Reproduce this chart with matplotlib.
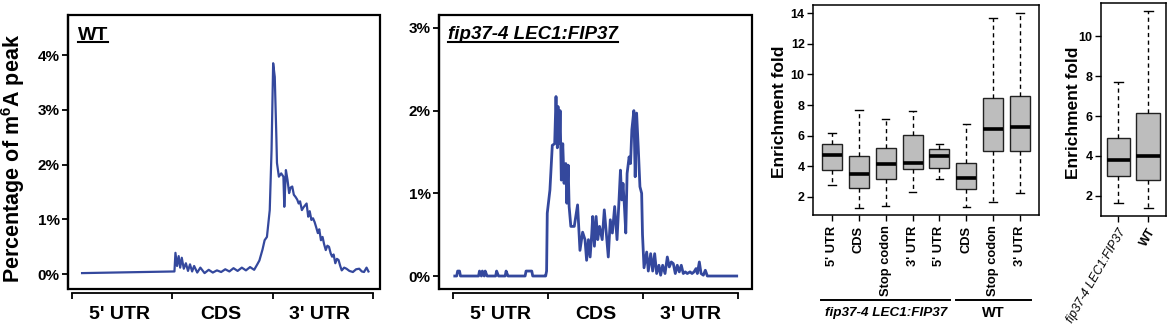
"""m6A peak distribution along transcripts and enrichment-fold boxplots."""

import matplotlib

matplotlib.use("Agg")
import matplotlib.pyplot as plt
from matplotlib.lines import Line2D
from matplotlib.patches import Rectangle

plt.rcParams.update({
    "font.family": ["Liberation Sans", "DejaVu Sans"],
    "font.weight": "bold",
    "mathtext.fontset": "custom",
    "mathtext.rm": "Liberation Sans:bold",
    "mathtext.bf": "Liberation Sans:bold",
    "mathtext.default": "bf",
})

LINE_COLOR = "#34489d"
BOX_COLOR = "#bdbdbd"

# ---- metagene profiles (bin 0-100 5'UTR, 100-200 CDS, 200-300 3'UTR; % of peaks)
WT_BIN = [10, 102, 103, 104.6, 106.2, 107.7, 109.3, 111.3, 113.4, 115.5, 117.5,
          119.6, 121.6, 124.7, 127.8, 132, 136.1, 140.2, 144.3, 148.5, 152.6,
          156.7, 160.8, 164.9, 169.1, 173.2, 177.3, 181.4, 184.5, 186.6, 189.7,
          191.8, 194.1, 196.9, 198.7, 200.3, 201.9, 203.5, 204.1, 206, 208.3,
          210.5, 211.4, 213, 214.6, 216.2, 217.6, 219.3, 220.9, 222.6, 224.3,
          225.7, 227.1, 228.9, 230.5, 233.6, 235.2, 236.7, 238.4, 240, 241.6,
          243.1, 244.8, 246.2, 247.9, 249.5, 251, 252.7, 254.3, 255.9, 257.6,
          259, 260.5, 262.2, 263.8, 265.4, 267.1, 268.6, 271, 273.3, 276.2,
          279.7, 282.9, 286, 288.6, 290.8, 293.3, 295.2]
WT_PCT = [0.02, 0.05, 0.39, 0.15, 0.33, 0.12, 0.30, 0.10, 0.20, 0.06, 0.18,
          0.05, 0.15, 0.03, 0.12, 0.02, 0.08, 0.03, 0.07, 0.04, 0.09,
          0.05, 0.11, 0.06, 0.12, 0.07, 0.13, 0.08, 0.18, 0.25, 0.45,
          0.62, 0.68, 1.17, 2.26, 3.85, 3.60, 2.50, 2.03, 1.78, 1.84,
          1.78, 1.23, 1.90, 1.72, 1.48, 1.58, 1.60, 1.45, 1.41, 1.36,
          1.29, 1.33, 1.17, 1.22, 1.29, 1.05, 1.15, 0.99, 1.02, 0.95,
          0.86, 0.75, 0.82, 0.62, 0.68, 0.55, 0.44, 0.52, 0.50, 0.38,
          0.32, 0.36, 0.20, 0.28, 0.26, 0.15, 0.07, 0.12, 0.10, 0.06,
          0.04, 0.09, 0.10, 0.05, 0.04, 0.12, 0.05]

LEC_BIN = [2, 4, 5, 7, 8, 27, 28, 30, 31, 33, 34, 36, 45, 46, 48, 55, 56, 58,
           76, 77, 83, 84, 96, 97.6, 98.6, 99.3, 102.1, 104.6, 107.1, 108.5,
           109.9, 110.6, 112, 112.8, 114.1, 115.6, 117, 118.8, 119.9, 121.3,
           122.3, 124.1, 127.7, 131.2, 133.7, 136.5, 139, 140.7, 142.6, 144.4,
           146.1, 147.1, 148.9, 150.7, 152.4, 154.3, 157.1, 159.3, 161.4,
           163.5, 165.6, 167.8, 170.2, 172.7, 174.8, 176.3, 177.7, 179, 180.5,
           181.9, 183.3, 185.4, 186.9, 188.3, 190.4, 191.8, 193.3, 195, 196.8,
           198.6, 199.5, 201.1, 203.9, 205.6, 208.1, 210.2, 212.3, 214.4,
           216.8, 218.6, 220.7, 223.2, 225.6, 227.7, 229.8, 231.9, 234, 236.1,
           238.2, 240.3, 242.4, 244.5, 246.6, 249.5, 251.6, 253.7, 255.8,
           257.2, 259.3, 261.1, 263.5, 265.6, 267.7, 298.6]
LEC_PCT = [0, 0, 0.06, 0.06, 0, 0, 0.06, 0, 0.06, 0, 0.06, 0, 0, 0.06, 0, 0,
           0.06, 0, 0, 0.06, 0.06, 0, 0, 0, 0.06, 0.76, 1.04, 1.58, 1.60, 2.17,
           1.55, 2.05, 1.60, 2.00, 1.16, 1.60, 1.12, 1.36, 0.88, 1.34,
           0.84, 0.60, 0.60, 0.86, 0.31, 0.53, 0.44, 0.19, 0.44, 0.23,
           0.51, 0.72, 0.36, 0.72, 0.44, 0.60, 0.44, 0.80, 0.52,
           0.23, 0.68, 0.52, 0.84, 0.44, 0.92, 1.28, 0.92, 1.12, 0.84,
           0.52, 1.24, 1.44, 1.36, 1.77, 2.00, 1.20, 1.97, 1.56, 1.08,
           1.00, 0.50, 0.10, 0.29, 0.06, 0.27, 0.06, 0.27, 0.03,
           0.13, 0.01, 0.13, 0.03, 0.23, 0.11, 0.17, 0.15, 0.03, 0.13,
           0.05, 0.13, 0.03, 0.05, 0.03, 0.05, 0.03, 0.05, 0.09,
           0.03, 0.17, 0.03, 0.01, 0.07, 0, 0]

REGION_LABELS = ["5' UTR", "CDS", "3' UTR"]
REGION_EDGES = [0, 100, 200, 300]

# ---- enrichment fold boxplots (per region)
REGION_BOX_LABELS = ["5' UTR", "CDS", "Stop codon", "3' UTR",
                     "5' UTR", "CDS", "Stop codon", "3' UTR"]
REGION_WHISLO = [2.76, 1.28, 1.39, 2.28, 3.13, 1.30, 1.65, 2.22]
REGION_Q1 = [3.74, 2.59, 3.16, 3.79, 3.85, 2.50, 4.99, 5.00]
REGION_MED = [4.73, 3.48, 4.12, 4.23, 4.68, 3.20, 6.43, 6.58]
REGION_Q3 = [5.42, 4.66, 5.16, 6.04, 5.12, 4.22, 8.48, 8.61]
REGION_WHISHI = [6.19, 7.67, 7.06, 7.60, 5.42, 6.76, 13.67, 14.0]
GROUPS = [("fip37-4 LEC1:FIP37", 1, 5), ("WT", 6, 8)]

# ---- enrichment fold boxplots (overall)
ALL_LABELS = ["fip37-4 LEC1:FIP37", "WT"]
ALL_WHISLO = [1.65, 1.36]
ALL_Q1 = [2.99, 2.79]
ALL_MED = [3.80, 4.00]
ALL_Q3 = [4.92, 6.14]
ALL_WHISHI = [7.69, 11.26]

W, H = 1171, 328


def fax(l, t, r, b):
    return [l / W, 1 - b / H, (r - l) / W, (b - t) / H]


def _profile(ax, x, y, ylim, yticks, label_pos, lw):
    ax.plot(x, y, color=LINE_COLOR, lw=lw)
    ax.set_ylim(*ylim)
    ax.set_yticks(yticks)
    ax.set_yticklabels([f"{t}%" for t in yticks], fontsize=11, fontweight="bold")
    ax.add_patch(Rectangle((0, 0), 1, 1, transform=ax.transAxes, fill=False,
                           lw=1.6, color="black", clip_on=False, zorder=5))
    for s in ("top", "right"):
        ax.spines[s].set_visible(False)
    ax.spines["left"].set_linewidth(1.6)
    ax.spines["bottom"].set_position(("outward", 3))
    ax.spines["bottom"].set_bounds(0, 300)
    ax.spines["bottom"].set_linewidth(1.3)
    ax.set_xticks(REGION_EDGES)
    ax.set_xticklabels([])
    ax.set_xticks(label_pos, minor=True)
    ax.set_xticklabels(REGION_LABELS, minor=True, fontsize=14, fontweight="bold")
    ax.tick_params(axis="x", which="major", length=4, width=1.3)
    ax.tick_params(axis="x", which="minor", length=0, pad=9)
    ax.tick_params(axis="y", length=4, width=1.3, pad=2)


def _boxes(ax, labels, lo, q1, med, q3, hi, width, capw):
    stats = [dict(whislo=a, q1=b, med=c, q3=d, whishi=e, fliers=[])
             for a, b, c, d, e in zip(lo, q1, med, q3, hi)]
    ax.bxp(stats, positions=range(1, len(stats) + 1), widths=width,
           capwidths=capw, patch_artist=True, showfliers=False,
           boxprops=dict(facecolor=BOX_COLOR, edgecolor="#222222", lw=1.0),
           medianprops=dict(color="black", lw=2.6),
           whiskerprops=dict(color="black", lw=1.0, ls=(0, (3, 2.5))),
           capprops=dict(color="black", lw=1.0))
    for s in ax.spines.values():
        s.set_linewidth(1.1)
    ax.tick_params(axis="y", length=4, width=1, labelsize=9, pad=2)
    ax.tick_params(axis="x", length=4, width=1)
    for t in ax.get_yticklabels():
        t.set_fontweight("bold")


def underline(fig, txt, y_off=2.5, lw=1.5):
    fig.canvas.draw()
    bb = txt.get_window_extent()
    y = bb.y0 + 4 - y_off
    fig.add_artist(Line2D([bb.x0 / W, bb.x1 / W], [y / H, y / H],
                          color="black", lw=lw))


def main():
    fig = plt.figure(figsize=(W / 100, H / 100), dpi=100)

    # panel 1: WT profile
    ax1 = fig.add_axes(fax(68, 15, 380, 289))
    _profile(ax1, WT_BIN, WT_PCT, (-0.27, 4.73), [0, 1, 2, 3, 4],
             [47, 148, 246], 1.6)
    ax1.set_xlim(-4, 306.7)
    t1 = ax1.text(0.032, 0.909, "WT", transform=ax1.transAxes, fontsize=14,
                  fontweight="bold")
    fig.text(13 / W, 1 - 158 / H, r"Percentage of m$^{6}$A peak", rotation=90,
             ha="center", va="center", fontsize=15.5, fontweight="bold")

    # panel 2: fip37-4 LEC1:FIP37 profile
    ax2 = fig.add_axes(fax(439, 15, 752, 289))
    _profile(ax2, LEC_BIN, LEC_PCT, (-0.157, 3.156), [0, 1, 2, 3],
             [50, 150, 250], 2.0)
    ax2.set_xlim(-14.6, 314.7)
    t2 = ax2.text(0.029, 0.912, "fip37-4 LEC1:FIP37", transform=ax2.transAxes,
                  fontsize=13.5, fontweight="bold", fontstyle="italic")

    # panel 3: enrichment fold per region
    ax3 = fig.add_axes(fax(813, 5, 1039, 215))
    _boxes(ax3, REGION_BOX_LABELS, REGION_WHISLO, REGION_Q1, REGION_MED,
           REGION_Q3, REGION_WHISHI, 0.75, 0.27)
    ax3.set_xlim(0.29, 8.71)
    ax3.set_ylim(0.8, 14.55)
    ax3.set_yticks([2, 4, 6, 8, 10, 12, 14])
    ax3.set_xticks(range(1, 9))
    ax3.set_xticklabels(REGION_BOX_LABELS, rotation=90, fontsize=9.3,
                        fontweight="bold")
    fig.text(780 / W, 1 - 112 / H, "Enrichment fold", rotation=90, ha="center",
             va="center", fontsize=12.5, fontweight="bold")
    for name, a, b in GROUPS:
        x0 = ax3.transData.transform((a - 0.4, 0))[0]
        x1 = ax3.transData.transform((b + 0.4, 0))[0]
        fig.add_artist(Line2D([x0 / W, x1 / W], [1 - 300 / H] * 2,
                              color="black", lw=1.4))
        fig.text((x0 + x1) / 2 / W, 1 - 313 / H, name, ha="center",
                 va="center", fontsize=9.7 if name != "WT" else 10.5,
                 fontweight="bold",
                 fontstyle="italic" if name != "WT" else "normal")

    # panel 4: enrichment fold overall
    ax4 = fig.add_axes(fax(1101, 3, 1166, 216))
    _boxes(ax4, ALL_LABELS, ALL_WHISLO, ALL_Q1, ALL_MED, ALL_Q3, ALL_WHISHI,
           0.77, 0.3)
    ax4.set_xlim(0.43, 2.6)
    ax4.set_ylim(0.98, 11.68)
    ax4.set_yticks([2, 4, 6, 8, 10])
    ax4.set_xticks([1, 2])
    ax4.set_xticklabels(ALL_LABELS, rotation=60, ha="right", va="top",
                        rotation_mode="anchor", fontsize=8.7)
    ax4.get_xticklabels()[0].set_fontstyle("italic")
    ax4.get_xticklabels()[0].set_fontweight("normal")
    fig.text(1073 / W, 1 - 113 / H, "Enrichment fold", rotation=90, ha="center",
             va="center", fontsize=12.5, fontweight="bold")

    underline(fig, t1)
    underline(fig, t2)

    fig.savefig("out.png", dpi=100)
    plt.close(fig)


if __name__ == "__main__":
    main()
